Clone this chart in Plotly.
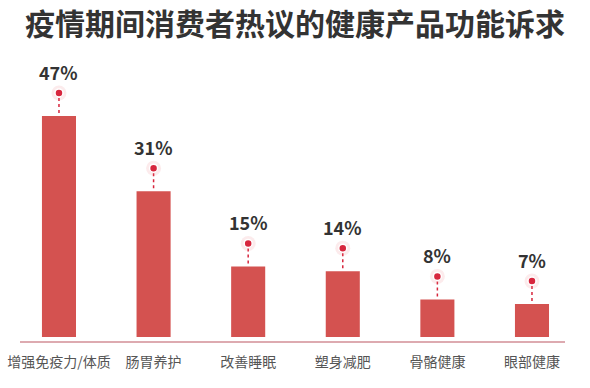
import plotly.graph_objects as go

categories = ["增强免疫力/体质", "肠胃养护", "改善睡眠", "塑身减肥", "骨骼健康", "眼部健康"]
values = [47, 31, 15, 14, 8, 7]
labels = ["47%", "31%", "15%", "14%", "8%", "7%"]
title = "疫情期间消费者热议的健康产品功能诉求"

W, H = 590, 388
ml, mr, mt, mb = 20, 25, 60, 47
ymin, ymax = -0.85, 58.9
plot_h = H - mt - mb
upp = (ymax - ymin) / plot_h  # data units per pixel

bar_color = "#d45250"
dot_color = "#d7263d"

fig = go.Figure()
fig.add_trace(go.Bar(x=categories, y=values, marker=dict(color=bar_color, line=dict(width=0)),
                     width=0.36, hoverinfo="skip"))

# dashed connectors
for c, v in zip(categories, values):
    fig.add_trace(go.Scatter(x=[c, c], y=[v + 3 * upp, v + 18 * upp], mode="lines",
                             line=dict(color=dot_color, width=1.5, dash="3px,3px"),
                             hoverinfo="skip"))

dot_y = [v + 23 * upp for v in values]
fig.add_trace(go.Scatter(x=categories, y=dot_y, mode="markers",
                         marker=dict(size=15, color="rgba(235,110,120,0.14)", line=dict(width=0)),
                         hoverinfo="skip"))
fig.add_trace(go.Scatter(x=categories, y=dot_y, mode="markers",
                         marker=dict(size=8, color=dot_color, line=dict(color="white", width=1.5)),
                         hoverinfo="skip"))

for c, v, t in zip(categories, values, labels):
    fig.add_annotation(x=c, y=v, text="<b>" + t + "</b>", showarrow=False, yanchor="middle", yshift=44,
                       font=dict(size=18, color="#333333", family="Noto Sans CJK SC, Arial"),
                       )

fig.update_layout(
    width=W, height=H,
    margin=dict(l=ml, r=mr, t=mt, b=mb, autoexpand=False),
    paper_bgcolor="white", plot_bgcolor="white",
    showlegend=False,
    title=dict(text="<b>" + title + "</b>", x=0.5, xanchor="center", y=1 - 24 / H, yanchor="middle",
               font=dict(size=30, color="#333333", family="Noto Sans CJK SC")),
    xaxis=dict(range=[-0.412, 5.349], showline=True, linecolor="#ddaab0", linewidth=1.5,
               automargin=False,
               showgrid=False, zeroline=False, ticks="outside", ticklen=7, tickcolor="rgba(0,0,0,0)",
               tickfont=dict(size=14, color="#555555", family="Noto Sans CJK SC")),
    yaxis=dict(range=[ymin, ymax], visible=False, showgrid=False, zeroline=False, automargin=False),
    font=dict(family="Noto Sans CJK SC"),
)

fig.write_html("out.html", config={"displayModeBar": False},
               post_script="document.body.style.margin='0';")
